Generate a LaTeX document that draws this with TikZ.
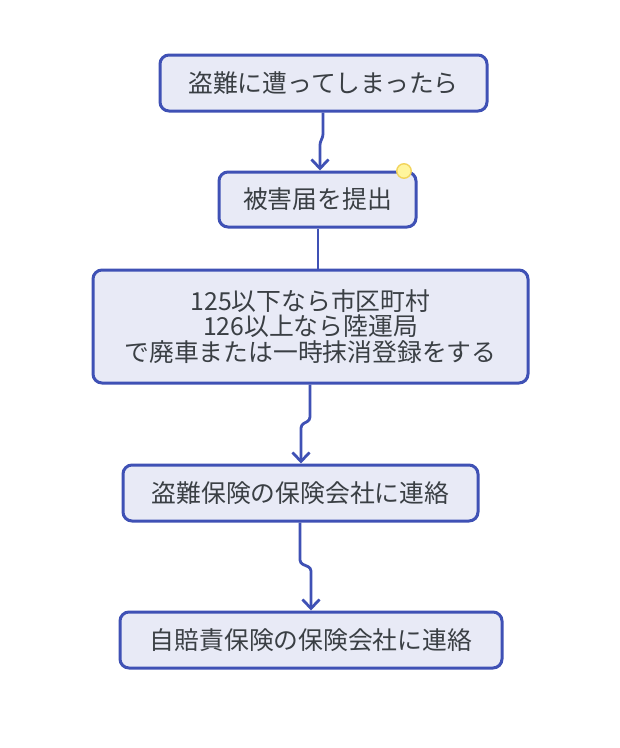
\documentclass[tikz,border=0pt]{standalone}
\usepackage{fontspec}
\setmainfont{Noto Sans CJK JP}
\usetikzlibrary{arrows.meta,calc}
\definecolor{edge}{HTML}{3F51B5}
\definecolor{boxfill}{HTML}{E8EAF6}
\definecolor{txt}{HTML}{3A3F44}
\definecolor{dotfill}{HTML}{FFF59D}
\definecolor{dotdraw}{HTML}{F2D45C}
\tikzset{
  flowbox/.style={draw=edge, fill=boxfill, line width=3pt, rounded corners=9pt,
    text=txt, font=\fontsize{24.8}{25.5}\selectfont, align=center, inner sep=0pt},
  conn/.style={draw=edge, line width=2.8pt, rounded corners=3pt},
  arr/.style={conn, -{Straight Barb[length=9pt,width=17pt,line width=2.8pt]}},
}
\begin{document}
\begin{tikzpicture}[x=1pt,y=-1pt]
\useasboundingbox[fill=white] (0,0) rectangle (620,748);
\node[flowbox, minimum width=327pt, minimum height=56pt] (b1) at (323.5,83) {盗難に遭ってしまったら};
\node[flowbox, minimum width=197pt, minimum height=55pt] (b2) at (317.5,199.5) {被害届を提出};
\node[flowbox, minimum width=435pt, minimum height=113pt] (b3) at (310.5,326.5) {125以下なら市区町村\\126以上なら陸運局\\で廃車または一時抹消登録をする};
\node[flowbox, minimum width=355pt, minimum height=56pt] (b4) at (300.5,493) {盗難保険の保険会社に連絡};
\node[flowbox, minimum width=382pt, minimum height=56pt] (b5) at (311,640) {自賠責保険の保険会社に連絡};
\node[circle, fill=dotfill, draw=dotdraw, line width=1.4pt, minimum size=14.5pt, inner sep=0pt] (dot) at (404,171) {};
\coordinate (j1a) at (323,137);
\coordinate (j1b) at (320,142);
\draw[arr] (b1.south -| j1a) -- (j1a) -- (j1b) -- (b2.north -| j1b);
\draw[conn] (b2.south -| 318,0) -- (b3.north -| 318,0);
\coordinate (j3a) at (310,420);
\coordinate (j3b) at (301,425);
\draw[arr] (b3.south -| j3a) -- (j3a) -- (j3b) -- (b4.north -| j3b);
\coordinate (j4a) at (300,563);
\coordinate (j4b) at (311,568);
\draw[arr] (b4.south -| j4a) -- (j4a) -- (j4b) -- (b5.north -| j4b);
\end{tikzpicture}
\end{document}
